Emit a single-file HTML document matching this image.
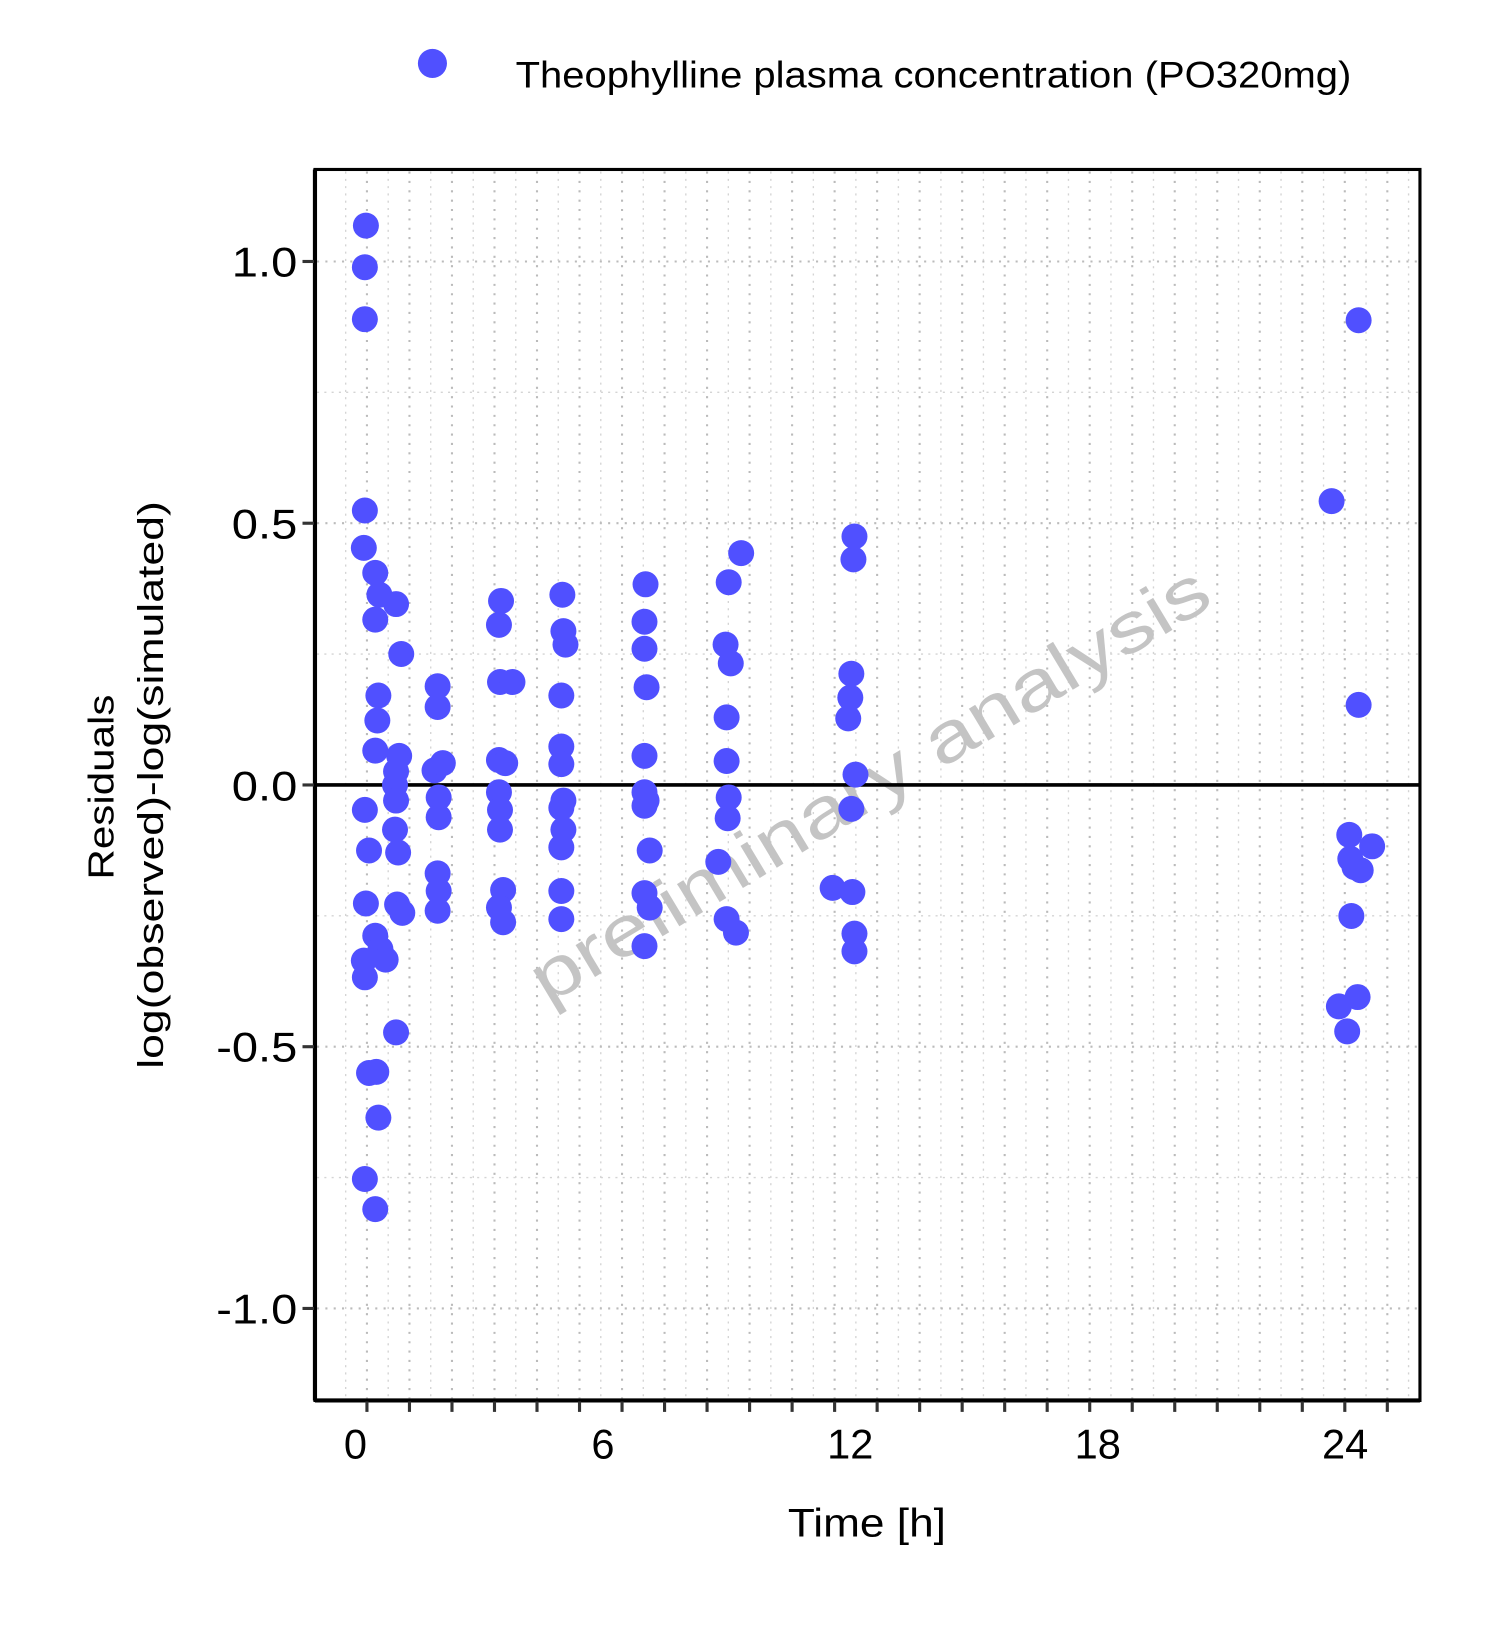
<!DOCTYPE html>
<html><head><meta charset="utf-8"><style>
body{margin:0;background:#fff;}
svg text{font-family:"Liberation Sans","Noto Sans CJK JP",sans-serif;}
</style></head><body>
<svg width="1500" height="1624" viewBox="0 0 1443 1562" preserveAspectRatio="none" xmlns="http://www.w3.org/2000/svg">
<rect width="1443" height="1562" fill="#fff"/>
<g id="grid"></g>
<text x="0" y="0" transform="translate(848,774) rotate(-31)" text-anchor="middle" font-size="68" fill="#c4c4c4" textLength="750" lengthAdjust="spacingAndGlyphs">preliminary analysis</text>
<line x1="303" y1="755" x2="1366" y2="755" stroke="#000" stroke-width="3.5"/>
<g id="pts" fill="#5050FF"></g>
<rect x="303" y="163" width="1063" height="1184" fill="none" stroke="#000" stroke-width="3"/>
<line x1="303" y1="163" x2="303" y2="1347" stroke="#000" stroke-width="4"/>
<line x1="303" y1="1347" x2="1366" y2="1347" stroke="#000" stroke-width="4"/>
<g id="ticks" stroke="#333" stroke-width="3"></g>
<g font-size="40" fill="#000" text-anchor="end">
<text x="286" y="266" textLength="63" lengthAdjust="spacingAndGlyphs">1.0</text>
<text x="286" y="518" textLength="63" lengthAdjust="spacingAndGlyphs">0.5</text>
<text x="286" y="770" textLength="63" lengthAdjust="spacingAndGlyphs">0.0</text>
<text x="286" y="1021" textLength="78" lengthAdjust="spacingAndGlyphs">-0.5</text>
<text x="286" y="1273" textLength="78" lengthAdjust="spacingAndGlyphs">-1.0</text>
</g>
<g font-size="40" fill="#000" text-anchor="middle">
<text x="342" y="1403">0</text>
<text x="580" y="1403">6</text>
<text x="818" y="1403">12</text>
<text x="1056" y="1403">18</text>
<text x="1294" y="1403">24</text>
</g>
<text x="834" y="1478" font-size="38" text-anchor="middle" textLength="152" lengthAdjust="spacingAndGlyphs">Time [h]</text>
<text transform="translate(109,757) rotate(-90)" font-size="35" text-anchor="middle" textLength="178" lengthAdjust="spacingAndGlyphs">Residuals</text>
<text transform="translate(157,755) rotate(-90)" font-size="35" text-anchor="middle" textLength="546" lengthAdjust="spacingAndGlyphs">log(observed)-log(simulated)</text>
<circle cx="416" cy="61" r="14" fill="#5050FF"/>
<text x="496" y="84" font-size="36" textLength="804" lengthAdjust="spacingAndGlyphs">Theophylline plasma concentration (PO320mg)</text>
</svg>
<script>
const ns="http://www.w3.org/2000/svg";
function el(p,t,a){const e=document.createElementNS(ns,t);for(const k in a)e.setAttribute(k,a[k]);p.appendChild(e);}
const g=document.getElementById('grid');
for(let k=-1;k<=49;k++){const x=353+20.45*k;if(x<305||x>1364)continue;const major=(k%2===0);
el(g,'line',{x1:x,y1:165,x2:x,y2:1345,stroke:major?'#bbb':'#d4d4d4','stroke-width':major?2:1.3,'stroke-dasharray':major?'2,7':'2,5'});}
for(let v=-1.25;v<=1.25;v+=0.25){const y=755-v*503.5;if(y<165||y>1345)continue;const major=Math.abs(v*2-Math.round(v*2))<1e-6;
el(g,'line',{x1:305,y1:y,x2:1364,y2:y,stroke:major?'#bbb':'#d4d4d4','stroke-width':major?2:1.3,'stroke-dasharray':major?'2,6':'2,5'});}
const t=document.getElementById('ticks');
for(let k=0;k<=24;k++){const x=353+40.9*k;el(t,'line',{x1:x,y1:1348,x2:x,y2:1358});}
for(const v of [1,0.5,0,-0.5,-1]){const y=755-v*503.5;el(t,'line',{x1:291,y1:y,x2:302,y2:y});}
const P=[[352,217],[351,257],[351,307],[351,491],[350,527],[361,551],[365,572],[361,596],[364,669],[363,693],[361,722],[351,779],[355,818],[352,869],[361,900],[366,913],[350,924],[351,940],[371,923],[355,1032],[362,1031],[364,1075],[351,1134],[361,1163],
[381,581],[386,629],[384,727],[381,742],[380,755],[381,770],[380,798],[383,820],[382,870],[387,878],[381,993],
[421,660],[421,680],[418,741],[426,734],[422,767],[422,786],[421,840],[422,857],[421,876],
[482,578],[480,601],[481,656],[493,656],[480,731],[486,734],[480,762],[481,779],[481,798],[484,856],[480,873],[484,887],
[541,572],[542,607],[544,620],[540,669],[540,718],[540,735],[542,770],[540,777],[542,798],[540,815],[540,857],[540,884],
[621,562],[620,598],[620,624],[622,661],[620,727],[620,762],[620,775],[622,770],[625,818],[620,859],[625,873],[620,910],
[701,560],[713,532],[698,620],[703,638],[699,690],[699,732],[701,767],[700,787],[691,829],[699,884],[708,897],
[822,516],[821,538],[819,648],[818,671],[816,691],[823,745],[819,778],[801,854],[820,858],[822,898],[822,915],
[1281,482],[1307,308],[1307,678],[1298,803],[1320,814],[1299,826],[1303,834],[1309,837],[1300,881],[1288,968],[1306,959],[1296,992]];
const pg=document.getElementById('pts');
for(const [x,y] of P)el(pg,'circle',{cx:x,cy:y,r:12.5});
</script>
</body></html>
